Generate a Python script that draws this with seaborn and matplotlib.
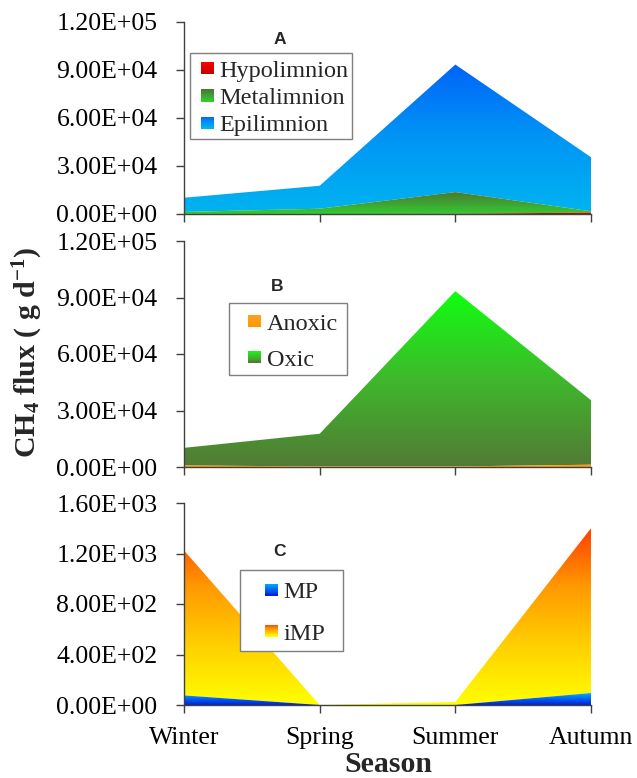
import numpy as np
import matplotlib
matplotlib.use("Agg")
import matplotlib.pyplot as plt
import seaborn as sns
from matplotlib.colors import LinearSegmentedColormap
from matplotlib.legend_handler import HandlerBase
from matplotlib.patches import Rectangle
from matplotlib.ticker import FuncFormatter, FixedLocator

# ---------------- data ----------------
seasons = ["Winter", "Spring", "Summer", "Autumn"]
hypolimnion = [0, 0, 100, 900]
metalimnion = [1300, 3300, 13600, 800]
epilimnion = [8870, 14350, 79700, 33800]
anoxic = [800, 300, 300, 1200]
oxic = [9370, 17350, 93100, 34300]
mp = [76, 0, 0, 95]
imp = [1148, 0, 24, 1305]

ticks_ab = [0, 30000, 60000, 90000, 120000]
ticks_c = [0, 400, 800, 1200, 1600]

# gradient colours (bottom -> top)
grad_hypo = ["#c00000", "#ff0000"]
grad_meta = ["#33cc33", "#3fa032", "#4a7a30"]
grad_epi = ["#00b4f0", "#0096f5", "#0064f8"]
grad_anox = ["#ff9900", "#ffa020"]
grad_oxic = ["#527a35", "#3fb82c", "#10ff10"]
grad_mp = ["#0020d8", "#0060f0", "#00b0ff"]
grad_imp = ["#ffff00", "#ffd000", "#ff9a00", "#ff4000"]

# ---------------- style ----------------
sns.set_theme(style="ticks")
plt.rcParams["font.family"] = ["Liberation Serif", "DejaVu Serif"]
plt.rcParams["mathtext.default"] = "regular"

W, H = 637, 778
fig = plt.figure(figsize=(W / 100, H / 100), dpi=100)


def ax_rect(left, right, top, bottom):
    return [left / W, 1 - bottom / H, (right - left) / W, (bottom - top) / H]


axA = fig.add_axes(ax_rect(184, 591, 22, 214))
axB = fig.add_axes(ax_rect(184, 591, 241, 467))
axC = fig.add_axes(ax_rect(184, 591, 503, 705))

xs = np.arange(len(seasons))


def gradient_area(ax, lower, upper, colors, z):
    lower = np.asarray(lower, float)
    upper = np.asarray(upper, float)
    poly = ax.fill_between(xs, lower, upper, facecolor="none",
                           edgecolor="none", zorder=z)
    top = upper.max()
    cmap = LinearSegmentedColormap.from_list("g", colors)
    grad = np.linspace(0, 1, 256).reshape(-1, 1)
    im = ax.imshow(grad, cmap=cmap, aspect="auto", origin="lower",
                   extent=[xs[0], xs[-1], 0, top], zorder=z,
                   interpolation="bilinear")
    im.set_clip_path(poly.get_paths()[0], transform=ax.transData)
    sns.lineplot(x=xs, y=upper, ax=ax, linewidth=0, legend=False)


class GradSwatch(Rectangle):
    def __init__(self, colors):
        super().__init__((0, 0), 1, 1)
        self.grad_colors = colors


class GradHandler(HandlerBase):
    def create_artists(self, legend, orig_handle, xdescent, ydescent,
                       width, height, fontsize, trans):
        cmap = LinearSegmentedColormap.from_list("h", orig_handle.grad_colors)
        s = min(width, height)
        x0 = -xdescent + (width - s) / 2
        y0 = -ydescent + (height - s) / 2
        n = 14
        arts = []
        for i in range(n):
            r = Rectangle((x0, y0 + i * s / n), s, s / n * 1.05,
                          facecolor=cmap(i / (n - 1)), edgecolor="none",
                          lw=0, transform=trans)
            arts.append(r)
        return arts


FS_LEG = 17.5


def add_legend(ax, names, grads, box, sw_left, row1, spacing_px):
    # frame drawn as a figure-level rectangle
    x0, y0, x1, y1 = box
    fig.patches.append(Rectangle((x0 / W, 1 - y1 / H), (x1 - x0) / W,
                                 (y1 - y0) / H, transform=fig.transFigure,
                                 facecolor="white", edgecolor="#7f7f7f",
                                 lw=1.0, zorder=10))
    fs_px = FS_LEG * 100 / 72
    text_h = 21.0
    handles = [GradSwatch(g) for g in grads]
    leg = ax.legend(handles, names, loc="upper left",
                    bbox_to_anchor=(sw_left / W, 1 - (row1 - 7.5) / H),
                    bbox_transform=fig.transFigure, frameon=False,
                    borderaxespad=0, fontsize=FS_LEG, handletextpad=0.25,
                    labelspacing=(spacing_px - text_h) / fs_px, borderpad=0,
                    handlelength=0.52, handleheight=0.52,
                    handler_map={GradSwatch: GradHandler()})
    leg.set_zorder(11)
    leg.set_figure(fig)
    ax.legend_ = None
    fig.legends.append(leg)


# ---------------- panel A ----------------
hm = np.array(hypolimnion) + np.array(metalimnion)
tot_a = hm + np.array(epilimnion)
gradient_area(axA, np.zeros(4), hypolimnion, grad_hypo, 3)
gradient_area(axA, hypolimnion, hm, grad_meta, 2)
gradient_area(axA, hm, tot_a, grad_epi, 1)

# ---------------- panel B ----------------
tot_b = np.array(anoxic) + np.array(oxic)
gradient_area(axB, np.zeros(4), anoxic, grad_anox, 2)
gradient_area(axB, anoxic, tot_b, grad_oxic, 1)

# ---------------- panel C ----------------
tot_c = np.array(mp) + np.array(imp)
gradient_area(axC, np.zeros(4), mp, grad_mp, 2)
gradient_area(axC, mp, tot_c, grad_imp, 1)

# ---------------- axes formatting ----------------
sci = FuncFormatter(lambda v, p: f"{v:.2E}")
for ax, ticks in ((axA, ticks_ab), (axB, ticks_ab), (axC, ticks_c)):
    ax.set_xlim(xs[0], xs[-1])
    ax.set_ylim(ticks[0], ticks[-1])
    ax.yaxis.set_major_locator(FixedLocator(ticks))
    ax.yaxis.set_major_formatter(sci)
    ax.set_xticks(xs)
    ax.set_xlabel("")
    ax.set_ylabel("")
    sns.despine(ax=ax)
    for sp in ("left", "bottom"):
        ax.spines[sp].set_color("#404040")
        ax.spines[sp].set_linewidth(1.0)
        ax.spines[sp].set_zorder(5)
    ax.tick_params(axis="both", direction="out", length=6, width=1.0,
                   color="#404040", labelsize=18.5, labelcolor="black")
    ax.tick_params(axis="y", pad=13)
    ax.grid(False)

axA.set_xticklabels([])
axB.set_xticklabels([])
axC.set_xticklabels(seasons)
axC.tick_params(axis="x", pad=10)

# legends
add_legend(axA, ["Hypolimnion", "Metalimnion", "Epilimnion"],
           [grad_hypo, grad_meta, grad_epi], (190, 53, 352, 139), 201, 68, 27.5)
add_legend(axB, ["Anoxic", "Oxic"], [grad_anox, grad_oxic],
           (229, 303, 347, 375), 248, 321, 36)
add_legend(axC, ["MP", "iMP"], [grad_mp, grad_imp],
           (240, 570, 343, 651), 265, 590, 41)

# panel letters
for (xp, yp, t) in ((280, 40, "A"), (277, 287, "B"), (280, 552, "C")):
    fig.text(xp / W, 1 - yp / H, t, family=["Liberation Sans", "DejaVu Sans"],
             fontweight="bold", fontsize=12.5, ha="center", va="center")

fig.text(388 / W, 1 - 765 / H, "Season", fontsize=21.5, fontweight="bold",
         ha="center", va="center")
fig.text(28 / W, 1 - 352 / H, "CH$_4$ flux ( g d$^{-1}$)", fontsize=21.5,
         fontweight="bold", rotation=90, ha="center", va="center")

fig.savefig("out.png", dpi=100)
